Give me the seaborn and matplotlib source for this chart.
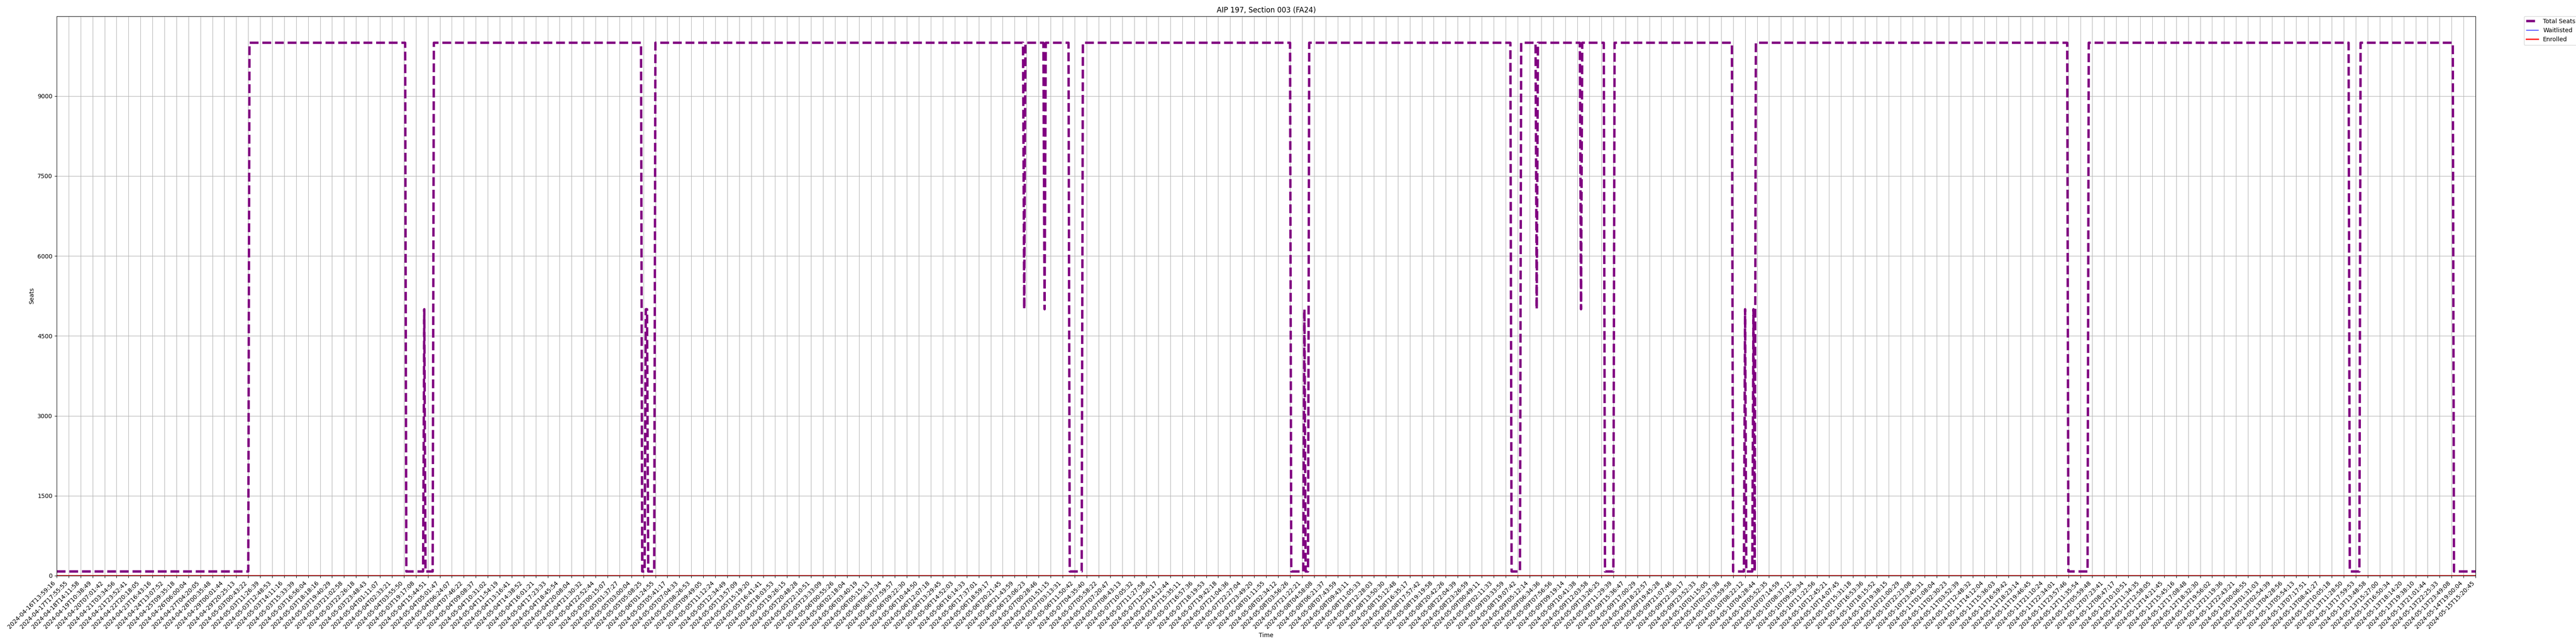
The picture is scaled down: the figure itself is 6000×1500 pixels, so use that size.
import numpy as np
import pandas as pd
import seaborn as sns
import matplotlib
matplotlib.use("Agg")
import matplotlib.pyplot as plt

# labels of every 10th snapshot (these are the x tick labels)
times = [
"2024-04-16T13:59:16","2024-04-17T17:55:55","2024-04-18T14:11:58","2024-04-19T10:38:49",
"2024-04-20T07:01:42","2024-04-21T03:34:56","2024-04-21T23:52:41","2024-04-22T20:18:05",
"2024-04-23T16:43:16","2024-04-24T13:07:52","2024-04-25T09:35:18","2024-04-26T06:00:04",
"2024-04-27T04:20:05","2024-04-28T00:35:48","2024-04-29T00:01:44","2024-04-29T20:25:13",
"2024-05-03T00:43:22","2024-05-03T11:26:39","2024-05-03T12:48:53","2024-05-03T14:11:16",
"2024-05-03T15:33:39","2024-05-03T16:56:04","2024-05-03T18:18:16","2024-05-03T19:40:29",
"2024-05-03T21:02:58","2024-05-03T22:26:18","2024-05-03T23:48:43","2024-05-04T01:11:07",
"2024-05-04T02:33:21","2024-05-04T03:55:50","2024-05-03T19:17:08","2024-05-04T15:44:51",
"2024-05-04T05:01:47","2024-05-04T06:24:07","2024-05-04T07:46:22","2024-05-04T09:08:37",
"2024-05-04T10:31:02","2024-05-04T11:54:19","2024-05-04T13:16:41","2024-05-04T14:38:52",
"2024-05-04T16:01:21","2024-05-04T17:23:33","2024-05-04T18:45:54","2024-05-04T20:08:04",
"2024-05-04T21:30:32","2024-05-04T22:52:44","2024-05-05T00:15:07","2024-05-05T01:37:27",
"2024-05-05T03:00:04","2024-05-05T05:08:25","2024-05-06T01:24:55","2024-05-05T05:41:17",
"2024-05-05T07:04:33","2024-05-05T08:26:53","2024-05-05T09:49:05","2024-05-05T11:12:24",
"2024-05-05T12:34:49","2024-05-05T13:57:09","2024-05-05T15:19:20","2024-05-05T16:41:41",
"2024-05-05T18:03:53","2024-05-05T19:26:15","2024-05-05T20:48:28","2024-05-05T22:10:51",
"2024-05-05T23:33:09","2024-05-06T00:55:26","2024-05-06T02:18:04","2024-05-06T03:40:19",
"2024-05-06T05:15:13","2024-05-06T06:37:34","2024-05-06T07:59:57","2024-05-06T09:22:30",
"2024-05-06T10:44:50","2024-05-06T12:07:18","2024-05-06T13:29:45","2024-05-06T14:52:03",
"2024-05-06T16:14:33","2024-05-06T17:37:01","2024-05-06T18:59:17","2024-05-06T20:21:45",
"2024-05-06T21:43:59","2024-05-06T23:06:23","2024-05-07T00:28:46","2024-05-07T01:51:15",
"2024-05-07T03:13:31","2024-05-06T11:50:42","2024-05-07T04:35:40","2024-05-07T05:58:22",
"2024-05-07T07:20:47","2024-05-07T08:43:13","2024-05-07T10:05:32","2024-05-07T11:27:58",
"2024-05-07T12:50:17","2024-05-07T14:12:44","2024-05-07T15:35:11","2024-05-07T16:57:36",
"2024-05-07T18:19:53","2024-05-07T19:42:18","2024-05-07T21:04:36","2024-05-07T22:27:04",
"2024-05-07T23:49:20","2024-05-08T01:11:55","2024-05-08T02:34:12","2024-05-08T03:56:26",
"2024-05-07T21:22:21","2024-05-08T04:58:08","2024-05-08T06:21:37","2024-05-08T07:43:59",
"2024-05-08T09:43:11","2024-05-08T11:05:33","2024-05-08T12:28:03","2024-05-08T13:50:30",
"2024-05-08T15:12:48","2024-05-08T16:35:17","2024-05-08T17:57:42","2024-05-08T19:19:58",
"2024-05-08T20:42:26","2024-05-08T22:04:39","2024-05-08T23:26:59","2024-05-09T00:49:11",
"2024-05-09T02:11:33","2024-05-09T03:33:59","2024-05-08T19:07:42","2024-05-09T05:12:14",
"2024-05-09T06:34:36","2024-05-09T07:56:56","2024-05-09T09:19:14","2024-05-09T10:41:38",
"2024-05-09T12:03:58","2024-05-09T13:26:25","2024-05-09T11:29:39","2024-05-09T15:36:47",
"2024-05-09T17:00:29","2024-05-09T18:22:57","2024-05-09T19:45:28","2024-05-09T21:07:46",
"2024-05-09T22:30:17","2024-05-09T23:52:33","2024-05-10T01:15:05","2024-05-10T02:37:38",
"2024-05-10T03:59:58","2024-05-10T08:22:12","2024-05-10T04:28:44","2024-05-10T05:52:35",
"2024-05-10T07:14:59","2024-05-10T08:37:12","2024-05-10T09:59:34","2024-05-10T11:22:56",
"2024-05-10T12:45:21","2024-05-10T14:07:45","2024-05-10T15:31:18","2024-05-10T16:53:36",
"2024-05-10T18:15:52","2024-05-10T19:38:15","2024-05-10T21:00:29","2024-05-10T22:23:08",
"2024-05-10T23:45:31","2024-05-11T01:08:04","2024-05-11T02:30:23","2024-05-11T03:52:39",
"2024-05-11T12:48:32","2024-05-11T14:12:04","2024-05-11T15:36:03","2024-05-11T16:59:42",
"2024-05-11T18:23:14","2024-05-11T19:46:45","2024-05-11T21:10:24","2024-05-11T22:34:01",
"2024-05-11T23:57:46","2024-05-12T11:35:54","2024-05-12T05:59:48","2024-05-12T07:23:41",
"2024-05-12T08:47:17","2024-05-12T10:10:51","2024-05-12T11:34:35","2024-05-12T12:58:05",
"2024-05-12T14:21:45","2024-05-12T15:45:16","2024-05-12T17:08:48","2024-05-12T18:32:30",
"2024-05-12T19:56:02","2024-05-12T21:19:36","2024-05-12T22:43:21","2024-05-13T00:06:55",
"2024-05-13T01:31:03","2024-05-13T02:54:39","2024-05-13T04:28:56","2024-05-13T05:54:13",
"2024-05-13T07:17:51","2024-05-13T08:41:27","2024-05-13T10:05:18","2024-05-13T11:28:50",
"2024-05-13T17:59:53","2024-05-13T13:48:58","2024-05-13T15:27:00","2024-05-13T16:50:34",
"2024-05-13T18:14:20","2024-05-13T19:38:10","2024-05-13T21:01:44","2024-05-13T22:25:33",
"2024-05-13T23:49:08","2024-05-14T19:00:04","2024-05-15T15:20:45",
]
label_every = 10

# total seats as (value, number of snapshots) runs
H, L, D = 9999, 80, 5000
seat_runs = [
    (L, 161), (H, 131), (L, 15), (D, 1), (L, 7), (H, 174), (L, 3), (D, 2), (L, 6),
    (H, 308), (D, 1), (H, 16), (D, 1), (H, 20), (L, 11), (H, 174), (L, 11), (D, 1),
    (L, 3), (H, 169), (L, 8), (H, 13), (D, 1), (H, 36), (D, 1), (H, 19), (L, 8),
    (H, 99), (L, 10), (D, 1), (L, 6), (D, 1), (L, 1), (H, 261), (L, 17), (H, 218),
    (L, 9), (H, 78), (L, 19),
]
seat_vals = [v for v, n in seat_runs]
seat_counts = [n for v, n in seat_runs]
total_seats = np.repeat(seat_vals, seat_counts)
n_snap = len(total_seats)
waitlisted = np.zeros(n_snap)
enrolled = np.zeros(n_snap)

df = pd.DataFrame({
    "snapshot": np.arange(n_snap),
    "Total Seats": total_seats,
    "Waitlisted": waitlisted,
    "Enrolled": enrolled,
})

fig, ax = plt.subplots(figsize=(60, 15), dpi=100)
sns.lineplot(data=df, x="snapshot", y="Total Seats", color="purple", linestyle="--",
             linewidth=4, label="Total Seats", ax=ax, sort=False, errorbar=None)
sns.lineplot(data=df, x="snapshot", y="Waitlisted", color="blue", linewidth=1,
             label="Waitlisted", ax=ax, sort=False, errorbar=None)
sns.lineplot(data=df, x="snapshot", y="Enrolled", color="red", linewidth=2,
             label="Enrolled", ax=ax, sort=False, errorbar=None)

ax.set_xlim(0, n_snap - 1)
ax.set_ylim(bottom=0)
ax.set_xticks(np.arange(0, n_snap, label_every))
ax.set_xticklabels(times, rotation=45, ha="right")
ax.set_yticks([0, 1500, 3000, 4500, 6000, 7500, 9000])
ax.set_title("AIP 197, Section 003 (FA24)")
ax.set_xlabel("Time")
ax.set_ylabel("Seats")
ax.grid(True)
ax.legend(bbox_to_anchor=(1.02, 1), loc="upper left", borderaxespad=0)
fig.subplots_adjust(left=0.022, right=0.961, top=0.975, bottom=0.106)
fig.savefig("out.png")
